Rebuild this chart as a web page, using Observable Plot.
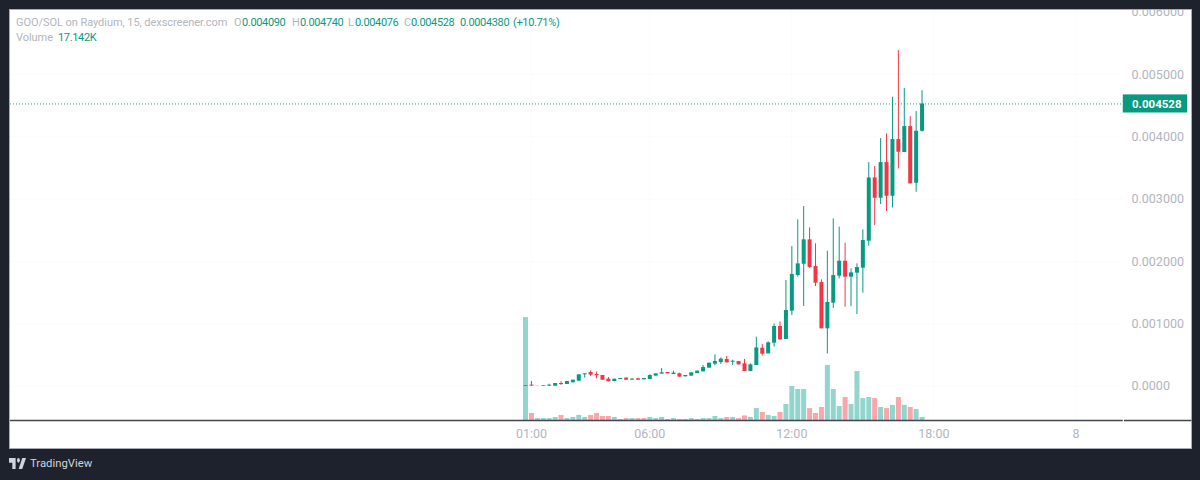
<!DOCTYPE html>
<html>
<head>
<meta charset="utf-8">
<script src="https://cdn.jsdelivr.net/npm/d3@7"></script>
<script src="https://cdn.jsdelivr.net/npm/@observablehq/plot@0.6"></script>
<style>
html,body{margin:0;padding:0;width:1200px;height:480px;overflow:hidden;background:#1e222d;font-family:Roboto,sans-serif;}
#panel{position:absolute;left:9px;top:9px;width:1180.5px;height:438px;background:#fff;border:1px solid #a8abb3;}
#chart{position:absolute;left:0;top:0;}
#chart svg{display:block;background:transparent;}
#topbar{position:absolute;left:0;top:0;width:1200px;height:9px;background:#1e222d;}
#topedge{position:absolute;left:9px;top:9px;width:1182px;height:1px;background:#a8abb3;}
.legend{position:absolute;font-size:11px;color:#b2b5be;white-space:pre;line-height:14px;letter-spacing:-0.05px;}
.legend.v{color:#089981;letter-spacing:-0.35px;}
#brand{position:absolute;left:9px;top:456px;height:14px;color:#d1d4dc;font-size:11.3px;line-height:15px;}
#brand svg{position:absolute;left:0;top:2px;width:17px;height:11px;fill:#d1d4dc;}
#brand span{position:absolute;left:21px;top:0;white-space:nowrap;}
</style>
</head>
<body>
<div id="panel"></div>
<div id="chart"></div>
<div id="topbar"></div>
<div id="topedge"></div>
<div class="legend" style="left:16px;top:16px">GOO/SOL on Raydium, 15, dexscreener.com</div>
<div class="legend" style="left:234px;top:16px">O</div><div class="legend v" style="left:242px;top:16px">0.004090</div>
<div class="legend" style="left:292px;top:16px">H</div><div class="legend v" style="left:300px;top:16px">0.004740</div>
<div class="legend" style="left:348px;top:16px">L</div><div class="legend v" style="left:355px;top:16px">0.004076</div>
<div class="legend" style="left:404px;top:16px">C</div><div class="legend v" style="left:411px;top:16px">0.004528</div>
<div class="legend v" style="left:460px;top:16px">0.0004380</div><div class="legend v" style="left:513px;top:16px">(+10.71%)</div>
<div class="legend" style="left:16px;top:31px">Volume</div><div class="legend v" style="left:58px;top:31px">17.142K</div>
<div id="brand"><svg viewBox="0 0 36 14" preserveAspectRatio="none"><path d="M14 0H0v6h7v8h7z"/><circle cx="20" cy="3" r="3"/><path d="M28 14h-7.5L28 0h8z"/></svg><span>TradingView</span></div>
<script>
// Prices in millionths of SOL; 15-minute bars starting at 00:45
const opens=[5,21,2,5,5,5,48,32,59,85,187,224,192,176,117,80,112,134,101,123,107,112,166,198,224,192,203,155,166,208,235,294,358,384,433,390,400,363,240,336,614,523,694,961,753,1207,1778,1960,2350,1922,1666,924,1335,1768,2008,1752,1816,1896,2328,3343,3017,3588,3049,3957,3749,4165,3257,4090];
const highs=[16,80,5,16,37,48,75,80,101,187,203,251,230,176,144,117,128,139,128,134,128,187,203,288,224,246,214,176,219,246,336,374,507,459,481,420,400,433,363,790,673,716,1004,1036,1698,2243,2670,2884,2542,2286,1709,2168,2686,2553,2296,1885,1965,2510,3588,3524,3973,4048,4635,5383,4774,4325,4406,4740];
const lows=[5,5,2,5,5,5,16,32,59,85,134,160,123,101,75,75,112,101,101,101,107,112,166,198,203,192,150,155,166,208,235,294,331,352,379,335,347,240,240,336,486,523,630,737,753,1137,1752,1282,1896,1602,924,523,1250,1725,1271,1282,1153,1495,2248,2579,2916,2804,2862,3487,3749,3247,3113,4076];
const closes=[16,5,5,16,21,48,32,80,101,187,203,182,171,101,75,117,128,101,117,101,128,176,203,219,203,214,150,176,219,246,304,374,400,438,379,405,347,240,347,619,518,700,961,748,1218,1794,1965,2350,1906,1655,924,1346,1778,2008,1752,1821,1906,2339,3343,3017,3588,3049,3957,3754,4165,3247,4090,4528];
// Volume in thousands
const volumes=[587,40,11,11,11,17,29,11,17,29,17,29,40,23,23,17,6,11,11,11,11,17,11,17,6,11,6,6,11,6,11,11,23,11,17,17,11,26,17,68,46,29,23,46,91,194,177,177,68,40,74,314,177,80,131,91,279,125,131,125,74,68,86,131,86,74,63,17.142];
// Bars whose volume column is pink although the candle closed up
const pinkVolumeBars=[20,27];
const priceTicks=[0,0.001,0.002,0.003,0.004,0.005,0.006];
const timeTicks=[1,6,12,18,24];
const timeLabels=["01:00","06:00","12:00","18:00","8"];
const lastPrice=0.004528;

const GREEN="#089981",RED="#f23645",VGREEN="#92d5cc",VRED="#fba6ab",MUTED="#b2b5be",LINE="#434651";
const VOL_BASE=-0.000545, VOL_UNIT=2.81e-6;

const bars=opens.map((o,i)=>({
  t:0.75+i*0.25,
  o:o/1e6,h:highs[i]/1e6,l:lows[i]/1e6,c:closes[i]/1e6,
  v:VOL_BASE+volumes[i]*VOL_UNIT,
  up:closes[i]>=o,
  vup:closes[i]>=o&&!pinkVolumeBars.includes(i)
}));
const color=d=>d.up?GREEN:RED;
const vcolor=d=>d.vup?VGREEN:VRED;

const chart=Plot.plot({
  width:1200,height:480,
  marginLeft:10,marginRight:77,marginTop:9,marginBottom:60,
  style:{background:"transparent",fontFamily:"Roboto, sans-serif",fontSize:"12px"},
  x:{type:"linear",domain:[-21.006,26.01]},
  y:{type:"linear",domain:[VOL_BASE,0.0060417]},
  marks:[
    Plot.ruleX(timeTicks,{stroke:"#fbfbfc",strokeWidth:1}),
    Plot.ruleY(priceTicks,{stroke:"#fbfbfc",strokeWidth:1}),
    Plot.ruleX(bars,{x:"t",y1:VOL_BASE,y2:"v",stroke:vcolor,strokeWidth:5}),
    Plot.ruleY([lastPrice],{stroke:"#26a69a",strokeWidth:1,strokeDasharray:"1,2"}),
    Plot.ruleX(bars,{x:"t",y1:"l",y2:"h",stroke:color,strokeWidth:1}),
    Plot.ruleX(bars,{x:"t",y1:"o",y2:"c",stroke:color,strokeWidth:4}),
    Plot.ruleY([VOL_BASE],{x1:-21.006,x2:26.0,stroke:LINE,strokeWidth:1.5}),
    Plot.ruleY([VOL_BASE],{x1:26.05,x2:28.9,stroke:LINE,strokeWidth:1.5}),
    Plot.axisY({ticks:priceTicks,anchor:"right",tickSize:0,tickPadding:8,label:null,
      tickFormat:d=>d===0?"0.0000":d.toFixed(6),fill:MUTED,textAnchor:"start",fontSize:12.5}),
    Plot.axisX({ticks:timeTicks,anchor:"bottom",tickSize:0,tickPadding:9,label:null,
      tickFormat:d=>timeLabels[timeTicks.indexOf(d)],fill:MUTED,fontSize:12.5}),
    Plot.rectY([lastPrice],{x1:26.0,x2:28.72,y1:d=>d-0.000145,y2:d=>d+0.000145,fill:GREEN}),
    Plot.text([lastPrice],{x:26.37,y:d=>d,text:d=>d.toFixed(6),textAnchor:"start",fill:"#fff",fontSize:11.5,fontWeight:700})
  ]
});
document.getElementById("chart").appendChild(chart);
</script>
</body>
</html>
